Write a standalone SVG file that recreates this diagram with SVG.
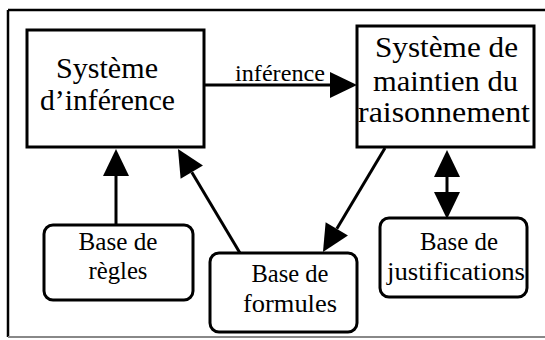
<svg xmlns="http://www.w3.org/2000/svg" width="545" height="340" viewBox="0 0 545 340">
<defs>
<style>
.box{fill:#fff;stroke:#000;stroke-width:3}
.t{font-family:"Liberation Serif","Times New Roman",serif;fill:#000}
.big{font-size:30px}
.small{font-size:25px}
.con{stroke:#000;stroke-width:3;fill:none}
</style>
<marker id="ah" markerUnits="userSpaceOnUse" markerWidth="28" markerHeight="26" refX="0" refY="13" orient="auto-start-reverse" overflow="visible">
<path d="M0,0 L27,13 L0,26 Z" fill="#000"/>
</marker>
</defs>
<rect width="545" height="340" fill="#fff"/>
<g id="frame">
<line x1="8" y1="10" x2="545" y2="10" stroke="#000" stroke-width="2.5"/>
<line x1="8" y1="10" x2="8" y2="337" stroke="#000" stroke-width="2.5"/>
<line x1="8" y1="337" x2="545" y2="337" stroke="#888" stroke-width="2"/>
</g>
<g id="connectors">
<line class="con" x1="204" y1="85" x2="330" y2="85" marker-end="url(#ah)"/>
<line class="con" x1="116" y1="225" x2="116" y2="176" marker-end="url(#ah)"/>
<line class="con" x1="240" y1="253" x2="191.8" y2="172.2" marker-end="url(#ah)"/>
<line class="con" x1="385" y1="148" x2="336.8" y2="228.8" marker-end="url(#ah)"/>
<line class="con" x1="447" y1="177" x2="447" y2="192" marker-start="url(#ah)" marker-end="url(#ah)"/>
<text class="t" x="235" y="81" font-size="23" textLength="90" lengthAdjust="spacingAndGlyphs">inférence</text>
</g>
<g id="systeme-inference">
<rect class="box" x="27" y="30" width="177" height="117"/>
<text class="t big" x="56" y="78" textLength="102" lengthAdjust="spacingAndGlyphs">Système</text>
<text class="t big" x="40" y="110" textLength="135" lengthAdjust="spacingAndGlyphs">d’inférence</text>
</g>
<g id="systeme-maintien">
<rect class="box" x="357" y="26" width="177" height="121"/>
<text class="t big" x="375" y="57" font-size="31" textLength="143" lengthAdjust="spacingAndGlyphs">Système de</text>
<text class="t big" x="373" y="91" font-size="31" textLength="145" lengthAdjust="spacingAndGlyphs">maintien du</text>
<text class="t big" x="358" y="122" font-size="31" textLength="172" lengthAdjust="spacingAndGlyphs">raisonnement</text>
</g>
<g id="base-regles">
<rect class="box" x="44" y="225" width="149" height="75" rx="9"/>
<text class="t small" x="118" y="250" text-anchor="middle" textLength="79" lengthAdjust="spacingAndGlyphs">Base de</text>
<text class="t small" x="118" y="279" text-anchor="middle" textLength="59" lengthAdjust="spacingAndGlyphs">règles</text>
</g>
<g id="base-formules">
<rect class="box" x="210" y="253" width="147" height="79" rx="9"/>
<text class="t small" x="290" y="282" text-anchor="middle" textLength="77" lengthAdjust="spacingAndGlyphs">Base de</text>
<text class="t small" x="290" y="312" text-anchor="middle" textLength="94" lengthAdjust="spacingAndGlyphs">formules</text>
</g>
<g id="base-justifications">
<rect class="box" x="380" y="218" width="147" height="79" rx="9"/>
<text class="t small" x="459" y="250" text-anchor="middle" textLength="78" lengthAdjust="spacingAndGlyphs">Base de</text>
<text class="t small" x="456" y="280" text-anchor="middle" textLength="138" lengthAdjust="spacingAndGlyphs">justifications</text>
</g>
</svg>
